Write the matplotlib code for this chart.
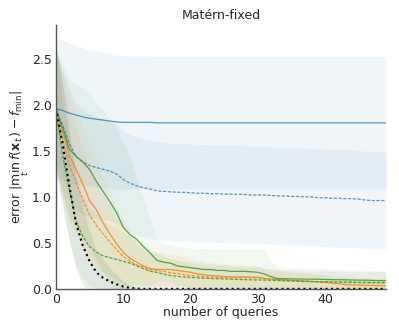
import numpy as np
import matplotlib
matplotlib.use("Agg")
import matplotlib.pyplot as plt

queries = list(range(50))

blue_solid = [1.96, 1.94, 1.91, 1.89, 1.87, 1.855, 1.845, 1.835, 1.825, 1.815,
              1.81, 1.81, 1.81, 1.81, 1.81, 1.805, 1.805, 1.805, 1.805, 1.805,
              1.805, 1.805, 1.805, 1.805, 1.805, 1.805, 1.805, 1.805, 1.805, 1.805,
              1.805, 1.805, 1.805, 1.805, 1.805, 1.805, 1.805, 1.805, 1.805, 1.805,
              1.805, 1.805, 1.805, 1.805, 1.805, 1.805, 1.805, 1.805, 1.805, 1.805]
blue_solid_sd = [0.77, 0.76, 0.76, 0.75, 0.75, 0.745, 0.74, 0.735, 0.73, 0.725,
                 0.725, 0.72, 0.72, 0.72, 0.72, 0.72, 0.72, 0.72, 0.72, 0.72,
                 0.72, 0.72, 0.72, 0.72, 0.72, 0.72, 0.72, 0.72, 0.72, 0.72,
                 0.72, 0.72, 0.72, 0.72, 0.72, 0.72, 0.72, 0.72, 0.72, 0.72,
                 0.72, 0.72, 0.72, 0.72, 0.72, 0.72, 0.72, 0.72, 0.72, 0.72]

blue_dashed = [1.96, 1.78, 1.58, 1.44, 1.38, 1.34, 1.32, 1.30, 1.28, 1.25,
               1.19, 1.15, 1.12, 1.10, 1.085, 1.065, 1.06, 1.055, 1.05, 1.05,
               1.045, 1.04, 1.04, 1.035, 1.035, 1.03, 1.03, 1.03, 1.025, 1.02,
               1.02, 1.02, 1.015, 1.01, 1.01, 1.005, 1.005, 1.0, 1.0, 0.99,
               0.99, 0.985, 0.985, 0.98, 0.98, 0.975, 0.965, 0.96, 0.96, 0.96]
blue_dashed_sd = [0.60, 0.60, 0.59, 0.58, 0.57, 0.56, 0.55, 0.55, 0.54, 0.54,
                  0.53, 0.53, 0.53, 0.53, 0.53, 0.53, 0.53, 0.53, 0.53, 0.53,
                  0.53, 0.53, 0.53, 0.53, 0.53, 0.53, 0.53, 0.53, 0.53, 0.53,
                  0.53, 0.53, 0.53, 0.53, 0.53, 0.53, 0.53, 0.53, 0.53, 0.53,
                  0.53, 0.53, 0.53, 0.53, 0.53, 0.53, 0.53, 0.53, 0.53, 0.53]

orange_solid = [1.96, 1.72, 1.45, 1.30, 1.14, 0.96, 0.86, 0.72, 0.60, 0.49,
                0.40, 0.33, 0.29, 0.25, 0.22, 0.21, 0.21, 0.21, 0.20, 0.19,
                0.18, 0.165, 0.15, 0.145, 0.14, 0.135, 0.13, 0.13, 0.13, 0.127,
                0.125, 0.115, 0.105, 0.10, 0.097, 0.093, 0.09, 0.085, 0.08, 0.075,
                0.07, 0.062, 0.055, 0.045, 0.042, 0.04, 0.038, 0.036, 0.035, 0.035]
orange_solid_sd = [0.65, 0.65, 0.64, 0.63, 0.62, 0.60, 0.56, 0.50, 0.45, 0.40,
                   0.35, 0.30, 0.24, 0.21, 0.19, 0.18, 0.18, 0.17, 0.17, 0.16,
                   0.16, 0.15, 0.15, 0.14, 0.14, 0.13, 0.13, 0.13, 0.12, 0.12,
                   0.12, 0.11, 0.11, 0.10, 0.10, 0.10, 0.09, 0.09, 0.09, 0.08,
                   0.08, 0.08, 0.07, 0.07, 0.07, 0.06, 0.06, 0.06, 0.06, 0.06]

orange_dashed = [1.96, 1.62, 1.35, 1.16, 0.97, 0.80, 0.69, 0.60, 0.51, 0.43,
                 0.35, 0.30, 0.26, 0.235, 0.21, 0.20, 0.19, 0.175, 0.165, 0.155,
                 0.145, 0.14, 0.13, 0.128, 0.125, 0.122, 0.12, 0.12, 0.12, 0.12,
                 0.12, 0.11, 0.105, 0.10, 0.095, 0.09, 0.087, 0.083, 0.08, 0.078,
                 0.075, 0.072, 0.07, 0.068, 0.067, 0.065, 0.064, 0.063, 0.062, 0.062]
orange_dashed_sd = [0.65, 0.63, 0.60, 0.57, 0.54, 0.50, 0.46, 0.42, 0.38, 0.34,
                    0.30, 0.26, 0.22, 0.20, 0.18, 0.17, 0.16, 0.15, 0.15, 0.14,
                    0.14, 0.13, 0.13, 0.12, 0.12, 0.12, 0.11, 0.11, 0.11, 0.11,
                    0.11, 0.10, 0.10, 0.10, 0.09, 0.09, 0.09, 0.08, 0.08, 0.08,
                    0.08, 0.07, 0.07, 0.07, 0.07, 0.06, 0.06, 0.06, 0.06, 0.06]

green_solid = [1.96, 1.75, 1.52, 1.44, 1.38, 1.30, 1.17, 1.06, 0.95, 0.83,
               0.67, 0.59, 0.54, 0.46, 0.39, 0.31, 0.29, 0.28, 0.25, 0.24,
               0.23, 0.22, 0.21, 0.21, 0.20, 0.20, 0.19, 0.19, 0.19, 0.185,
               0.18, 0.16, 0.13, 0.11, 0.11, 0.108, 0.107, 0.106, 0.105, 0.104,
               0.102, 0.10, 0.099, 0.098, 0.096, 0.095, 0.094, 0.092, 0.09, 0.09]
green_solid_sd = [0.65, 0.70, 0.75, 0.78, 0.80, 0.82, 0.85, 0.88, 0.90, 0.92,
                  0.93, 0.85, 0.66, 0.54, 0.36, 0.22, 0.20, 0.20, 0.21, 0.21,
                  0.22, 0.22, 0.23, 0.23, 0.23, 0.23, 0.24, 0.24, 0.24, 0.24,
                  0.25, 0.26, 0.17, 0.13, 0.12, 0.12, 0.12, 0.12, 0.12, 0.12,
                  0.12, 0.11, 0.11, 0.11, 0.11, 0.11, 0.11, 0.11, 0.11, 0.11]

green_dashed = [1.96, 1.45, 1.08, 0.74, 0.57, 0.46, 0.40, 0.36, 0.34, 0.32,
                0.30, 0.28, 0.25, 0.22, 0.19, 0.18, 0.16, 0.145, 0.135, 0.13,
                0.125, 0.12, 0.116, 0.113, 0.11, 0.108, 0.105, 0.102, 0.10, 0.098,
                0.097, 0.095, 0.092, 0.09, 0.087, 0.085, 0.082, 0.08, 0.079, 0.078,
                0.077, 0.076, 0.075, 0.074, 0.073, 0.072, 0.071, 0.07, 0.07, 0.07]
green_dashed_sd = [0.65, 0.60, 0.55, 0.50, 0.45, 0.42, 0.40, 0.38, 0.36, 0.34,
                   0.32, 0.30, 0.28, 0.26, 0.24, 0.22, 0.20, 0.18, 0.18, 0.17,
                   0.17, 0.17, 0.16, 0.16, 0.16, 0.16, 0.15, 0.15, 0.15, 0.15,
                   0.15, 0.13, 0.12, 0.12, 0.12, 0.12, 0.12, 0.12, 0.12, 0.12,
                   0.12, 0.12, 0.12, 0.12, 0.12, 0.12, 0.12, 0.12, 0.12, 0.12]

black_dotted = [1.96, 1.58, 1.12, 0.71, 0.47, 0.30, 0.18, 0.12, 0.08, 0.05,
                0.025, 0.01, 0.003, 0, 0, 0, 0, 0, 0, 0,
                0, 0, 0, 0, 0, 0, 0, 0, 0, 0,
                0, 0, 0, 0, 0, 0, 0, 0, 0, 0,
                0, 0, 0, 0, 0, 0, 0, 0, 0, 0]
black_dotted_sd = [0.70, 0.65, 0.60, 0.50, 0.42, 0.33, 0.25, 0.20, 0.15, 0.10,
                   0.06, 0.03, 0.01, 0, 0, 0, 0, 0, 0, 0,
                   0, 0, 0, 0, 0, 0, 0, 0, 0, 0,
                   0, 0, 0, 0, 0, 0, 0, 0, 0, 0,
                   0, 0, 0, 0, 0, 0, 0, 0, 0, 0]

fine_dash = (0, (2.6, 1.2))
series = [
    (blue_solid, blue_solid_sd, "#1f77b4", "-", 0.9, 0.75),
    (blue_dashed, blue_dashed_sd, "#1f77b4", fine_dash, 0.9, 0.75),
    (orange_solid, orange_solid_sd, "#ff7f0e", "-", 0.9, 0.85),
    (orange_dashed, orange_dashed_sd, "#ff7f0e", fine_dash, 0.9, 0.85),
    (green_solid, green_solid_sd, "#2ca02c", "-", 0.9, 0.85),
    (green_dashed, green_dashed_sd, "#2ca02c", fine_dash, 0.9, 0.85),
    (black_dotted, black_dotted_sd, "black", ":", 1.5, 1.0),
]

plt.rcParams['font.family'] = ['DejaVu Sans']
fig = plt.figure(figsize=(3.99, 3.32), dpi=100)
ax = fig.add_axes([0.14, 0.13, 0.827, 0.795])

x = np.array(queries)
for mean, sd, color, ls, lw, a in series:
    m = np.array(mean)
    s = np.array(sd)
    ax.fill_between(x, m - s, m + s, color=color, alpha=0.065, linewidth=0)
for mean, sd, color, ls, lw, a in series:
    ax.plot(x, mean, color=color, linestyle=ls, linewidth=lw, alpha=a)

ax.set_xlim(0, 49)
ax.set_ylim(0, 2.87)
ax.set_xticks([0, 10, 20, 30, 40])
ax.set_yticks([0.0, 0.5, 1.0, 1.5, 2.0, 2.5])
ax.tick_params(length=0, labelsize=9, colors="#262626", pad=3)
for side in ["top", "right"]:
    ax.spines[side].set_visible(False)
for side in ["left", "bottom"]:
    ax.spines[side].set_color("#555555")
    ax.spines[side].set_linewidth(1.0)
ax.set_title("Matérn-fixed", fontsize=9, color="#262626", pad=4)
ax.set_xlabel("number of queries", fontsize=9, color="#262626", labelpad=0)
ax.set_ylabel(r"error $|\min_t\, f(\mathbf{x}_t) - f_{\min}|$", fontsize=9,
              color="#262626", labelpad=0.5)

fig.savefig("out.png", dpi=100)
